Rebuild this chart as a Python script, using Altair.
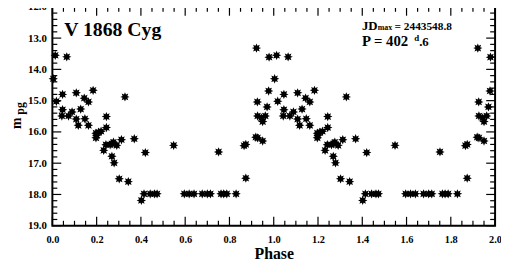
import math
import altair as alt
import pandas as pd

# ---- data (one cycle, phase 0..1) ----
phase = [0.004, 0.013, 0.065, 0.018, 0.046, 0.108, 0.184, 0.144, 0.163, 0.328,
         0.046, 0.089, 0.128, 0.043, 0.073, 0.108, 0.147, 0.244, 0.117, 0.163,
         0.244, 0.197, 0.209, 0.220, 0.197, 0.200, 0.312, 0.370, 0.232, 0.242,
         0.261, 0.269, 0.276, 0.291, 0.269, 0.420, 0.279, 0.302, 0.343, 0.402,
         0.414, 0.442, 0.462, 0.473, 0.548, 0.596, 0.618, 0.640, 0.677, 0.700,
         0.714, 0.751, 0.762, 0.774, 0.788, 0.830, 0.866, 0.874, 0.874, 0.919,
         0.927, 0.950, 0.922, 0.979, 0.977, 0.926, 0.970, 0.927, 0.944, 0.950,
         0.962]
mag = [14.30, 13.55, 13.60, 15.02, 14.80, 14.75, 14.67, 14.92, 15.04, 14.88,
       15.29, 15.36, 15.27, 15.49, 15.49, 15.59, 15.58, 15.51, 15.79, 15.79,
       15.86, 16.04, 16.01, 15.98, 16.19, 16.11, 16.25, 16.22, 16.59, 16.41,
       16.41, 16.38, 16.33, 16.43, 16.78, 16.66, 16.99, 17.50, 17.59, 18.19,
       17.98, 17.98, 17.98, 17.98, 16.43, 17.98, 17.98, 17.98, 17.98, 17.98,
       17.98, 16.64, 17.98, 17.98, 17.98, 17.98, 16.44, 16.40, 17.48, 16.17,
       16.19, 16.29, 13.32, 13.61, 14.69, 15.04, 15.20, 15.49, 15.55, 15.67,
       15.49]

x_major = [0.0, 0.2, 0.4, 0.6, 0.8, 1.0, 1.2, 1.4, 1.6, 1.8, 2.0]
x_minor = [0.05, 0.1, 0.15, 0.25, 0.3, 0.35, 0.45, 0.5, 0.55, 0.65, 0.7, 0.75,
           0.85, 0.9, 0.95, 1.05, 1.1, 1.15, 1.25, 1.3, 1.35, 1.45, 1.5, 1.55,
           1.65, 1.7, 1.75, 1.85, 1.9, 1.95]
y_major = [12.0, 13.0, 14.0, 15.0, 16.0, 17.0, 18.0, 19.0]
y_minor = [12.2, 12.4, 12.6, 12.8, 13.2, 13.4, 13.6, 13.8, 14.2, 14.4, 14.6, 14.8,
           15.2, 15.4, 15.6, 15.8, 16.2, 16.4, 16.6, 16.8, 17.2, 17.4, 17.6, 17.8,
           18.2, 18.4, 18.6, 18.8]

title_text = "V 1868 Cyg"
jd_text = "JD"
jd_sub = "max"
jd_value = "= 2443548.8"
p_text = "P = 402"
p_sup = "d"
p_tail = ".6"

# ---- build ----
W, H = 449, 222
FONT = "Liberation Serif"

# two cycles: phase and phase + 1
df = pd.DataFrame({
    "phase": phase + [p + 1 for p in phase],
    "mag": mag + mag,
})

xs = alt.Scale(domain=[0, 2], nice=False, zero=False)
ys = alt.Scale(domain=[12, 19], reverse=True, nice=False, zero=False)

x_axis = alt.Axis(
    values=x_major, format=".1f", ticks=False, domain=False, grid=False,
    labelFlush=False,
    labelFont=FONT, labelFontWeight="bold", labelFontSize=10.5, labelColor="black",
    labelPadding=9, title="Phase", titleFont=FONT, titleFontWeight="bold",
    titleFontSize=16, titleColor="black", titlePadding=1)
y_axis = alt.Axis(
    values=y_major, format=".1f", ticks=False, domain=False, grid=False,
    labelFlush=False,
    labelFont=FONT, labelFontWeight="bold", labelFontSize=11, labelColor="black",
    labelPadding=6, title="")

# asterisk-like star symbol
pts = []
for k in range(16):
    r = 1.0 if k % 2 == 0 else 0.55
    a = math.pi * k / 8
    pts.append(f"{r * math.sin(a):.3f},{-r * math.cos(a):.3f}")
star = "M" + "L".join(pts) + "Z"

points = alt.Chart(df).mark_point(
    shape=star, filled=True, size=90, color="black", opacity=1, strokeWidth=0
).encode(
    x=alt.X("phase:Q", scale=xs, axis=x_axis),
    y=alt.Y("mag:Q", scale=ys, axis=y_axis),
)

def xticks(vals, length):
    d = pd.DataFrame({"phase": vals})
    bot = alt.Chart(d).mark_rule(color="black", strokeWidth=1.2).encode(
        x=alt.X("phase:Q", scale=xs, axis=x_axis), y=alt.value(H), y2=alt.value(H - length))
    top = alt.Chart(d).mark_rule(color="black", strokeWidth=1.2).encode(
        x=alt.X("phase:Q", scale=xs, axis=x_axis), y=alt.value(0), y2=alt.value(length))
    return [bot, top]

def yticks(vals, length):
    d = pd.DataFrame({"mag": vals})
    left = alt.Chart(d).mark_rule(color="black", strokeWidth=1.2).encode(
        y=alt.Y("mag:Q", scale=ys, axis=y_axis), x=alt.value(0), x2=alt.value(length))
    right = alt.Chart(d).mark_rule(color="black", strokeWidth=1.2).encode(
        y=alt.Y("mag:Q", scale=ys, axis=y_axis), x=alt.value(W), x2=alt.value(W - length))
    return [left, right]

def label(text, x, y, size, angle=0, align="left", baseline="alphabetic"):
    d = pd.DataFrame({"t": [text]})
    kw = dict(font=FONT, fontWeight="bold", fontSize=size, color="black",
              align=align, baseline=baseline)
    if angle:
        kw["angle"] = angle
    return alt.Chart(d).mark_text(**kw).encode(
        text="t:N", x=alt.value(x), y=alt.value(y))

texts = [
    label(title_text, 12, 30, 20),
    label(jd_text, 314, 23, 13),
    label(jd_sub, 330, 23, 8),
    label(jd_value, 347, 23, 11.5),
    label(p_text, 314, 40, 15),
    label(p_sup, 367, 35, 9),
    label(p_tail, 372, 40, 13),
    label("m", -32, 118, 14, angle=270, align="center"),
    label("pg", -29, 103, 12, angle=270, align="center"),
]

layers = ([points] + xticks(x_minor, 5) + xticks(x_major, 9)
          + yticks(y_minor, 5) + yticks(y_major, 9) + texts)

chart = alt.layer(*layers).properties(
    width=W, height=H,
    padding={"left": 45, "top": -3, "right": 6, "bottom": 37},
    autosize=alt.AutoSizeParams(type="none"),
    background="white",
).configure_view(stroke="black", strokeWidth=2)

chart.save("out.html", embed_options={"renderer": "svg", "actions": False})
